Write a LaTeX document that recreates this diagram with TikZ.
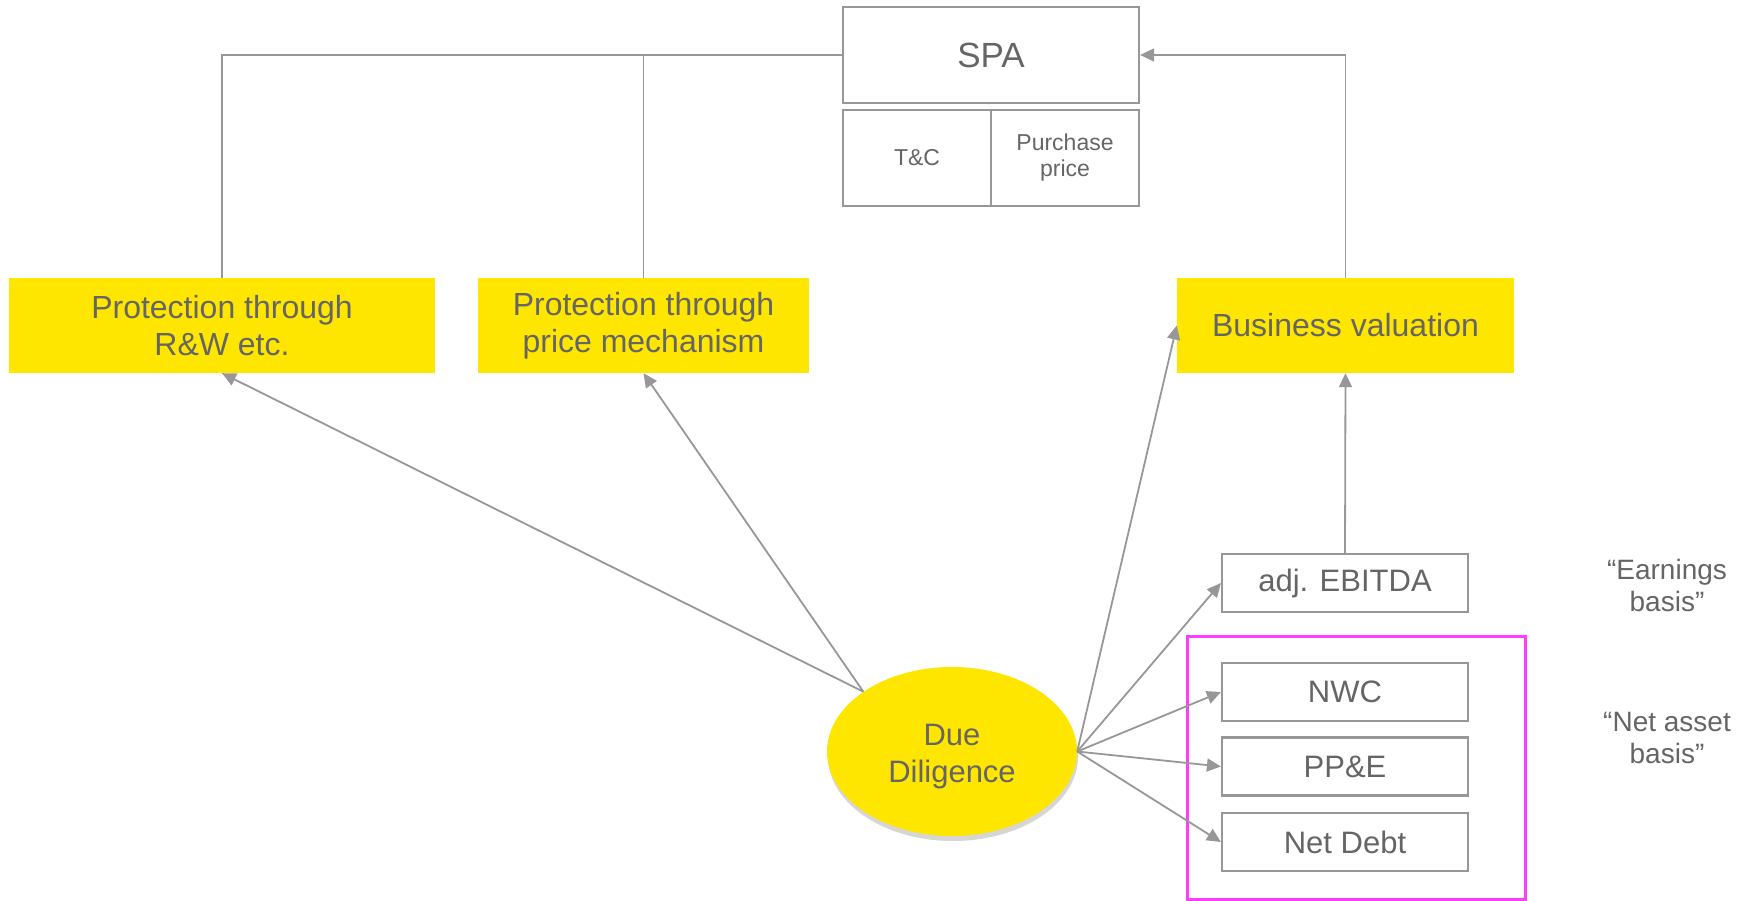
\documentclass[tikz,border=0pt]{standalone}
\usepackage{fontspec}
\setmainfont{Liberation Sans}
\usetikzlibrary{arrows.meta,shapes.geometric,shadows}

\definecolor{eyyellow}{HTML}{FFE600}
\definecolor{linegray}{HTML}{979797}
\definecolor{textgray}{HTML}{656565}
\definecolor{framepink}{HTML}{FF3DFF}

\begin{document}
\begin{tikzpicture}[x=1pt,y=-1pt,
		every node/.style={text=textgray, align=center, inner sep=0pt},
		greybox/.style={draw=linegray, line width=2.2pt, minimum width=246pt, minimum height=58pt, font=\fontsize{31}{36}\selectfont},
		yellowbox/.style={fill=eyyellow, minimum height=95pt, font=\fontsize{32}{37}\selectfont},
		link/.style={draw=linegray, line width=1.8pt},
		arrow/.style={link, -{Triangle[length=14pt,width=13pt]}}]
		\useasboundingbox (0,0) rectangle (1756,901);

		\node[greybox, minimum width=296pt, minimum height=96pt, font=\fontsize{35}{40}\selectfont] (spa) at (991,55) {SPA};
		\node[greybox, minimum width=148pt, minimum height=96pt, font=\fontsize{23}{26}\selectfont] (tc) at (917,158) {T\&C};
		\node[greybox, minimum width=148pt, minimum height=96pt, font=\fontsize{23}{26}\selectfont] (price) at (1065,158) {Purchase\\price};

		\node[yellowbox, minimum width=426pt] (rw) at (222,325.5) {Protection through\\R\&W etc.};
		\node[yellowbox, minimum width=331pt] (mech) at (643.5,325.5) {Protection through\\price mechanism};
		\node[yellowbox, minimum width=337pt] (bv) at (1345.5,325.5) {Business valuation};

		\node[greybox] (ebitda) at (1345,583) {adj. EBITDA};
		\node[greybox] (nwc) at (1345,692) {NWC};
		\node[greybox] (ppe) at (1345,766.5) {PP\&E};
		\node[greybox] (debt) at (1345,842) {Net Debt};
		\draw[framepink, line width=3pt] (1187,636) rectangle (1525,899.5);

		\node[font=\fontsize{28}{32}\selectfont] (earn) at (1667,585) {“Earnings\\basis”};
		\node[font=\fontsize{28}{32}\selectfont] (asset) at (1667,738) {“Net asset\\basis”};

		\node[ellipse, fill=eyyellow, minimum width=250pt, minimum height=169pt,
			drop shadow={fill=black, opacity=0.16, shadow xshift=1pt, shadow yshift=-5pt},
			label={[font=\fontsize{31}{37}\selectfont, yshift=-5pt]center:{Due\\Diligence}}] (dd) at (952,751.5) {};

		\draw[link] (rw.north) |- (spa.west);
		\draw[link] (mech.north) |- (spa.west);
		\draw[arrow] (bv.north) |- (spa.east);
		\draw[arrow] (ebitda.north) -- (bv.south);

		\draw[arrow] (dd.146) -- (rw.south);
		\draw[arrow] (dd.146) -- (mech.south);
		\draw[arrow] (dd.east) -- (bv.west);
		\draw[arrow] (dd.east) -- (ebitda.west);
		\draw[arrow] (dd.east) -- (nwc.west);
		\draw[arrow] (dd.east) -- (ppe.west);
		\draw[arrow] (dd.east) -- (debt.west);
	\end{tikzpicture}
\end{document}
